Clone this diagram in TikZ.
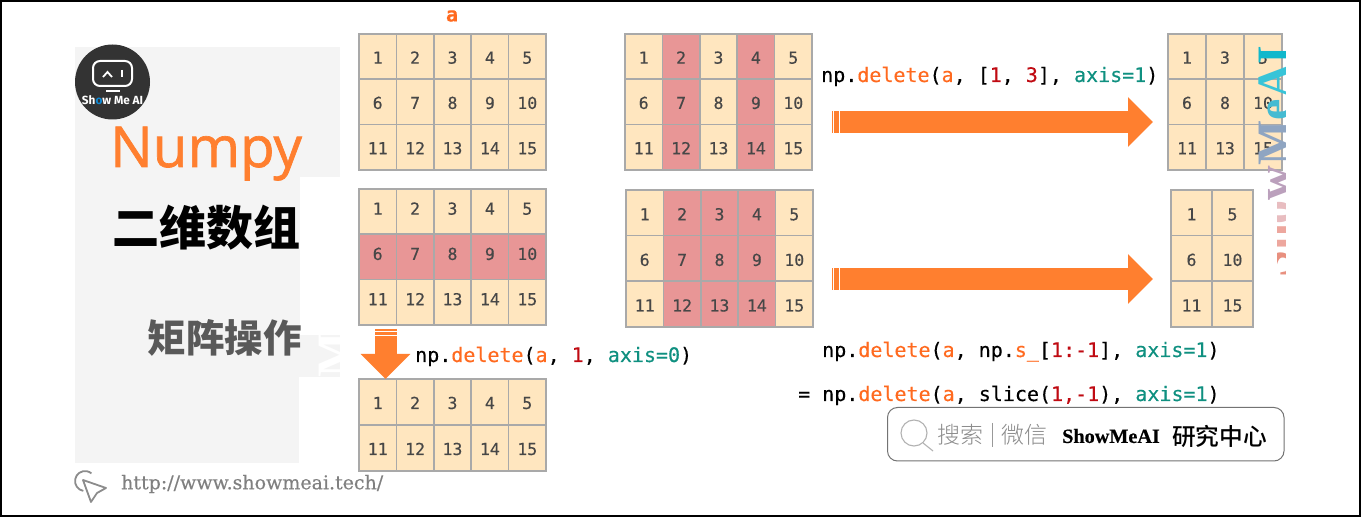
\documentclass[tikz,border=0pt]{standalone}
\usepackage{fontspec}
\usepackage{xcolor}
\usetikzlibrary{arrows.meta,positioning}
\setmainfont{Liberation Serif}
\newfontfamily\codefont[FakeBold=0.35]{DejaVu Sans Mono}
\newfontfamily\headfont[FakeBold=1.2]{Open Sans}
\newfontfamily\logofont{Fira Sans}
\newfontfamily\urlfont[FakeBold=0.4]{DejaVu Serif}
\newfontfamily\brandfont[FakeBold=0.6]{Liberation Serif Bold}
\newfontfamily\cjkbold{Noto Sans CJK SC Black}
\newfontfamily\cjkthin{Noto Sans CJK SC Light}
\newfontfamily\cjkreg{Noto Sans CJK SC Medium}
\definecolor{tan}{HTML}{FFE6BF}
\definecolor{rosy}{HTML}{E89696}
\definecolor{edge}{HTML}{A9A9A9}
\definecolor{orng}{HTML}{FF7F2F}
\definecolor{fnc}{HTML}{FF6A1F}
\definecolor{numc}{HTML}{C00A12}
\definecolor{kwc}{HTML}{0F9080}
\newcommand{\cfn}[1]{\textcolor{fnc}{#1}}
\newcommand{\cnr}[1]{\textcolor{numc}{#1}}
\newcommand{\ckw}[1]{\textcolor{kwc}{#1}}
\newcommand{\gridtable}[8][0]{%
  \foreach \val/\kind [count=\n from 0] in {#8} {
    \pgfmathtruncatemacro{\cc}{mod(\n,#4)}
    \pgfmathtruncatemacro{\rr}{int(\n/#4)}
    \node[\kind, minimum width=#5pt, minimum height=#6pt] (#2-\n)
      at ({#3+(\cc+.5)*#5},{#7+(\rr+.5)*#6}) {\raisebox{#1pt}{\val}};
  }}

\begin{document}
\begin{tikzpicture}[
      x=1pt, y=-1pt,
      plain/.style={draw=edge, fill=tan, line width=1.6pt, inner sep=0pt, outer sep=0pt,
                    text height=12pt, text depth=0pt,
                    text=black!72, font=\codefont\fontsize{16.5}{18}\selectfont},
      hot/.style={plain, fill=rosy},
      code/.style={anchor=base west, inner sep=0pt, font=\codefont\fontsize{20}{22}\selectfont},
      blockarr/.style={orng, line width=22pt, -{Triangle[length=25pt, width=48pt]}},
      stripe/.style={white, line width=.8pt},
      wmark/.style={anchor=base, rotate=90, inner sep=0pt,
                    font=\bfseries\fontsize{48}{50}\selectfont}]
    \useasboundingbox (0,0) rectangle (1361,518);
    \fill[white] (0,0) rectangle (1361,518);

    \fill[black!4.5] (75,47) rectangle (340,463);
    \fill[white] (300,177) rectangle (340,335);
    \fill[white] (299,377) rectangle (340,463);
    \begin{scope}
      \clip (300,335) rectangle (340,377);
      \node[wmark, white] (markleft) at (350,344) {Me};
    \end{scope}

    \fill[black!80] (112.5,82) circle (37.5);
    \draw[white, line width=2pt, rounded corners=7pt] (93,61) rectangle (132,86);
    \draw[white, line width=1.8pt] (103,77) -- (107.5,72) -- (112,77);
    \draw[white, line width=2.4pt] (122,70) -- (122,77);
    \draw[white, line width=2pt] (106,91) -- (120,91);
    \node[inner sep=0pt, text=white, font=\logofont\bfseries\fontsize{11.8}{13}\selectfont] (logo)
      at (112.5,100.5) {Sh\textcolor{cyan!70!blue}{o}w Me AI};

    \node[inner sep=0pt, anchor=base west, text=orng, font=\headfont\fontsize{56.5}{58}\selectfont] (title)
      at (110,167) {Numpy};
    \node[inner sep=0pt, anchor=east, font=\cjkbold\fontsize{47}{50}\selectfont] (subtitle)
      at (301,228) {二维数组};
    \node[inner sep=0pt, anchor=east, text=black!65, font=\cjkbold\fontsize{38.5}{40}\selectfont] (topic)
      at (302,338) {矩阵操作};

    \node[inner sep=0pt, text=fnc, font=\codefont\bfseries\fontsize{20}{22}\selectfont] (name) at (452,16) {a};

    \gridtable[-1]{ga}{359}{5}{37.4}{45.3}{34}{1/plain,2/plain,3/plain,4/plain,5/plain,6/plain,7/plain,8/plain,9/plain,10/plain,11/plain,12/plain,13/plain,14/plain,15/plain}
    \gridtable[-1]{gb}{625}{5}{37.4}{45.3}{34}{1/plain,2/hot,3/plain,4/hot,5/plain,6/plain,7/hot,8/plain,9/hot,10/plain,11/plain,12/hot,13/plain,14/hot,15/plain}
    \gridtable[-1]{gc}{1168}{3}{38}{45.3}{34}{1/plain,3/plain,5/plain,6/plain,8/plain,10/plain,11/plain,13/plain,15/plain}
    \gridtable[3]{gd}{359}{5}{37.4}{45.3}{189}{1/plain,2/plain,3/plain,4/plain,5/plain,6/hot,7/hot,8/hot,9/hot,10/hot,11/plain,12/plain,13/plain,14/plain,15/plain}
    \gridtable[-1.5]{ge}{626}{5}{37.4}{45.6}{190}{1/plain,2/hot,3/hot,4/hot,5/plain,6/plain,7/hot,8/hot,9/hot,10/plain,11/plain,12/hot,13/hot,14/hot,15/plain}
    \gridtable[-1.5]{gf}{1171}{2}{41}{45.6}{190}{1/plain,5/plain,6/plain,10/plain,11/plain,15/plain}
    \gridtable[-1]{gg}{359}{5}{37.4}{46}{379}{1/plain,2/plain,3/plain,4/plain,5/plain,11/plain,12/plain,13/plain,14/plain,15/plain}

    \node[code] (codea) at (821,82) {np.\cfn{delete}(\cfn{a}, [\cnr{1}, \cnr{3}], \ckw{axis=1})};
    \node[code] (codeb) at (415,362) {np.\cfn{delete}(\cfn{a}, \cnr{1}, \ckw{axis=0})};
    \node[code] (codec) at (822,357) {np.\cfn{delete}(\cfn{a}, np.\cfn{s\_}[\cnr{1:-1}], \ckw{axis=1})};
    \node[code] (coded) at (798,401) {= np.\cfn{delete}(\cfn{a}, slice(\cnr{1,-1}), \ckw{axis=1})};

    \coordinate (tailtop) at (832,122);
    \coordinate (headtop) at (1153,122);
    \coordinate (tailmid) at (832,279);
    \coordinate (headmid) at (1153,279);
    \coordinate (taildown) at (385.5,329);
    \coordinate (headdown) at (385.5,379);
    \draw[blockarr] (tailtop) -- (headtop);
    \draw[blockarr] (tailmid) -- (headmid);
    \draw[blockarr] (taildown) -- (headdown);
    \draw[stripe] ([xshift=1.6pt,yshift=11pt]tailtop) -- ([xshift=1.6pt,yshift=-11pt]tailtop);
    \draw[stripe] ([xshift=7.4pt,yshift=11pt]tailtop) -- ([xshift=7.4pt,yshift=-11pt]tailtop);
    \draw[stripe] ([xshift=1.6pt,yshift=11pt]tailmid) -- ([xshift=1.6pt,yshift=-11pt]tailmid);
    \draw[stripe] ([xshift=7.4pt,yshift=11pt]tailmid) -- ([xshift=7.4pt,yshift=-11pt]tailmid);
    \draw[stripe] ([xshift=-11pt,yshift=-2.6pt]taildown) -- ([xshift=11pt,yshift=-2.6pt]taildown);
    \draw[stripe] ([xshift=-11pt,yshift=-6.6pt]taildown) -- ([xshift=11pt,yshift=-6.6pt]taildown);

    \begin{scope}
      \clip (1240,30) -- (1285,30) -- (1285,290) -- (1277,290) -- (1277,200) -- (1240,200) -- cycle;
      \node[wmark] (markright) at (1290,161.5) {\textcolor[HTML]{E8907F}{S}\textcolor[HTML]{EDA79E}{h}\textcolor[HTML]{E8BDC0}{o}\textcolor[HTML]{BBA0BC}{w}\textcolor[HTML]{8FA5C2}{M}\textcolor[HTML]{45BBD2}{e}\textcolor[HTML]{38C4D8}{A}\textcolor[HTML]{10B8CC}{I}};
    \end{scope}

    \draw[black!55, line width=1pt, rounded corners=10pt] (887.5,407.5) rectangle (1284,461);
    \draw[black!30, line width=1.1pt] (914,433) circle (13);
    \draw[black!30, line width=1.1pt] (923,443) -- (933,451);
    \node[inner sep=0pt, anchor=west, text=black!45, font=\cjkthin\fontsize{23}{25}\selectfont] (searcha) at (937,435) {搜索};
    \draw[black!40, line width=.8pt] (992,423) -- (992,447);
    \node[inner sep=0pt, anchor=west, text=black!45, font=\cjkthin\fontsize{23}{25}\selectfont] (searchb) at (1001,435) {微信};
    \node[inner sep=0pt, anchor=west, font=\brandfont\fontsize{20.2}{22}\selectfont] (brand) at (1062,436) {ShowMeAI};
    \node[inner sep=0pt, anchor=west, font=\cjkreg\fontsize{23.7}{25}\selectfont] (brandcn) at (1172,436) {研究中心};

    \draw[black!45, line width=1.8pt] (83.3,490.9) arc[start angle=100, end angle=310, radius=10];
    \draw[black!45, line width=1.8pt, line join=round] (83,480) -- (106,488) -- (97,493) -- (91,502) -- cycle;
    \node[inner sep=0pt, anchor=west, text=black!50, font=\urlfont\fontsize{19}{20}\selectfont] (url)
      at (121,484) {http://www.showmeai.tech/};

    \draw[black, line width=2pt] (1,1.5) rectangle (1359.5,516);
  \end{tikzpicture}
\end{document}
